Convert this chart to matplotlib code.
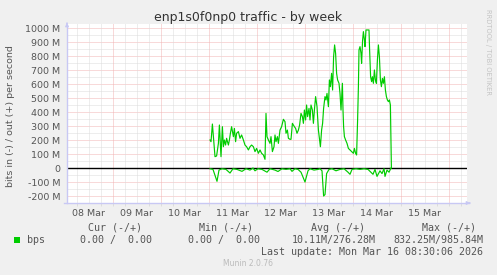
import numpy as np
import matplotlib
matplotlib.use('Agg')
import matplotlib.pyplot as plt
from matplotlib.patches import Rectangle

# Время в часах от 08 Mar 00:00, значения в Mbit/s
out_hours = [72.5, 73.0, 73.7, 74.2, 75.0, 75.8, 76.7, 77.2, 78.0, 78.7, 79.2, 79.7,
             80.3, 80.8, 81.7, 82.2, 82.7, 83.3, 84.2, 84.7, 85.3, 85.8, 86.7, 87.5,
             88.3, 89.2, 90.0, 90.8, 91.7, 92.5, 93.3, 94.2, 95.0, 95.8, 96.7, 97.5,
             98.3, 99.2, 100.0, 100.5, 101.0, 101.7, 102.5, 103.0, 103.7, 104.5, 105.0,
             105.5, 106.2, 106.7, 107.5, 108.3, 109.2, 110.0, 110.5, 111.2, 111.7, 112.5,
             113.0, 113.7, 114.7, 115.3, 116.0, 116.7, 117.3, 118.0, 118.7, 119.2, 119.7,
             120.3, 120.8, 121.3, 122.0, 122.5, 123.0, 123.7, 124.2, 124.7, 125.3, 126.0,
             126.7, 127.3, 127.7, 128.3, 128.8, 129.3, 130.0, 130.5, 131.0, 131.7, 132.2,
             132.7, 133.3, 133.8, 134.3, 134.8, 135.3, 135.8, 136.3, 137.0, 137.5, 138.0,
             138.7, 139.0, 139.3, 139.7, 140.3, 141.0, 141.7, 142.5, 143.3, 144.2, 144.7,
             145.3, 145.8, 146.3, 146.7, 147.0, 147.5, 148.0, 148.3, 148.8, 149.2, 149.7,
             150.0, 150.5, 151.3, 152.0, 152.3, 152.8, 153.3, 153.7, 154.2, 154.7, 155.2,
             155.7, 156.2, 156.7, 157.2, 157.7, 158.2, 158.7, 159.2, 159.7, 160.2, 160.7,
             161.2, 161.7, 162.2, 162.7, 163.2]
out_vals = [200, 188, 314, 224, 81, 86, 176, 307, 81, 295, 152, 200,
            164, 212, 164, 200, 248, 295, 224, 283, 188, 248, 260, 212,
            236, 200, 164, 152, 129, 152, 164, 152, 117, 140, 105, 129,
            105, 93, 62, 390, 224, 200, 176, 224, 117, 152, 236,
            188, 224, 176, 271, 295, 348, 331, 248, 271, 212, 205,
            205, 319, 295, 283, 248, 271, 307, 390, 367, 319, 414,
            343, 450, 367, 426, 343, 450, 414, 319, 414, 510, 438,
            271, 200, 152, 271, 319, 426, 510, 486, 533, 438, 629,
            581, 676, 557, 795, 879, 819, 676, 629, 605, 533, 414,
            605, 414, 295, 224, 200, 176, 140, 129, 117, 105, 140,
            105, 93, 343, 581, 843, 867, 819, 748, 914, 974, 914,
            867, 986, 986, 986, 843, 652, 617, 652, 605, 700, 629,
            605, 771, 879, 795, 629, 581, 640, 605, 652, 557, 510,
            486, 474, 486, 450, 0]

in_hours = [72.5, 74.0, 76.0, 77.0, 78.5, 80.5, 82.5, 84.0, 86.0, 88.5, 90.5, 92.5,
            94.0, 95.0, 96.5, 98.5, 101.0, 102.5, 105.0, 106.5, 108.5, 110.5, 112.5,
            113.5, 115.0, 116.5, 118.0, 120.0, 121.5, 122.5, 124.5, 126.5, 127.5, 128.5,
            129.3, 130.0, 130.8, 132.0, 133.5, 135.5, 137.5, 139.5, 141.5, 142.5, 143.5,
            145.5, 147.5, 149.5, 151.5, 154.0, 155.0, 156.0, 157.5, 158.5, 159.5, 160.0,
            161.0, 162.0, 163.0]
in_vals = [-5, -10, -95, -15, -5, -10, -36, -5, -10, -24, -5, -15,
           0, -20, -5, -10, -30, -5, -15, -25, -5, -10, -5,
           -24, -5, -10, -30, -100, -20, -5, -15, -10, -5, -20,
           -200, -190, -40, -10, -5, -20, -10, -5, -30, -45, -10,
           -5, -10, -5, -10, -45, -10, -60, -20, -40, -5, -60,
           -15, -30, 0]

day_labels = ['08 Mar', '09 Mar', '10 Mar', '11 Mar', '12 Mar', '13 Mar', '14 Mar', '15 Mar']
y_ticks = [-200, -100, 0, 100, 200, 300, 400, 500, 600, 700, 800, 900, 1000]

W, H = 497, 275
BG = '#F0F0F0'
TXT = '#555555'
GREEN = '#00CC00'
PINK = '#F2B4B4'
GREY = '#DCDCDC'


def fx(x):
    return x / W


def fy(y):
    return 1 - y / H


fig = plt.figure(figsize=(W / 100, H / 100), dpi=100, facecolor=BG)
# область графика: x 67..467, y 24..203 (пиксели)
ax = fig.add_axes([fx(67), fy(203), 400 / W, (203 - 24) / H])
ax.set_facecolor('white')
ax.set_xlim(1, 201)
ax.set_ylim(-250, (168 - 24) / 14 * 100)

# сетка
dot = (0, (1, 1))
for v in range(-250, 1050, 50):
    major = v % 100 == 0
    ax.axhline(v, color=PINK if major else GREY, lw=0.72, ls=dot, zorder=1)
for h in range(0, 204, 6):
    major = h % 24 == 0
    ax.axvline(h, color=PINK if major else GREY, lw=0.72, ls=dot, zorder=1)

ax.axhline(0, color='black', lw=1.0, zorder=2)
ax.plot(out_hours, out_vals, color=GREEN, lw=0.85, zorder=3)
ax.plot(in_hours, in_vals, color=GREEN, lw=0.85, zorder=3)

for s in ax.spines.values():
    s.set_visible(False)

ax.set_yticks(y_ticks)
ax.set_yticklabels([('%d M' % v) if v != 0 else '0' for v in y_ticks])
ax.set_xticks([12 + 24 * i for i in range(len(day_labels))])
ax.set_xticklabels(day_labels)
ax.tick_params(axis='both', which='major', length=0, labelsize=6.8, labelcolor=TXT)
ax.tick_params(axis='y', pad=5)
ax.tick_params(axis='x', pad=4.5)

# мелкие засечки под нижней осью
ax.set_xticks(list(range(6, 204, 6)), minor=True)
ax.tick_params(axis='x', which='minor', length=2, width=0.7, color=GREY, direction='out')
for t, h in zip(ax.xaxis.get_minor_ticks(), range(6, 204, 6)):
    if h % 24 == 0:
        t.tick1line.set_color('#E89090')

# оси со стрелками
axc = '#C8C8F4'
fig.add_artist(plt.Line2D([fx(67), fx(67)], [fy(203), fy(25)], color=axc, lw=1))
fig.add_artist(plt.Line2D([fx(64), fx(469)], [fy(203), fy(203)], color=axc, lw=1))
ax.annotate('', xy=(fx(473), fy(203)), xytext=(fx(467), fy(203)), xycoords='figure fraction',
            arrowprops=dict(arrowstyle='-|>', color=axc, lw=0.8, mutation_scale=5))
ax.annotate('', xy=(fx(67), fy(20)), xytext=(fx(67), fy(26)), xycoords='figure fraction',
            arrowprops=dict(arrowstyle='-|>', color=axc, lw=0.8, mutation_scale=5))

fig.text(fx(248.5), fy(18), 'enp1s0f0np0 traffic - by week', ha='center', va='center',
         fontsize=9, color='#333333')
fig.text(fx(11), fy(116), 'bits in (-) / out (+) per second', rotation=90, ha='center',
         va='center', fontsize=6.8, color=TXT)
fig.text(fx(488), fy(52), 'RRDTOOL / TOBI OETIKER', rotation=270, ha='center', va='center',
         fontsize=4.9, color='#C4C4C4')

mono = dict(family='DejaVu Sans Mono', fontsize=7.2, color=TXT, va='center')
for txt, xr in [('Cur (-/+)', 142), ('Min (-/+)', 253), ('Avg (-/+)', 365), ('Max (-/+)', 476.5)]:
    fig.text(fx(xr), fy(228), txt, ha='right', **mono)
fig.add_artist(Rectangle((fx(14), fy(243)), 6 / W, 6 / H, transform=fig.transFigure,
                         facecolor=GREEN, edgecolor='none'))
fig.text(fx(26.5), fy(240), 'bps', ha='left', **mono)
for txt, xr in [('0.00 /  0.00', 152), ('0.00 /  0.00', 260.5), ('10.11M/276.28M', 375.5),
                ('832.25M/985.84M', 483)]:
    fig.text(fx(xr), fy(240), txt, ha='right', **mono)
fig.text(fx(483), fy(252), 'Last update: Mon Mar 16 08:30:06 2026', ha='right', **mono)
fig.text(fx(248), fy(264), 'Munin 2.0.76', ha='center', va='center', fontsize=5.5, color='#BBBBBB')

fig.savefig('out.png', dpi=100, facecolor=BG)
